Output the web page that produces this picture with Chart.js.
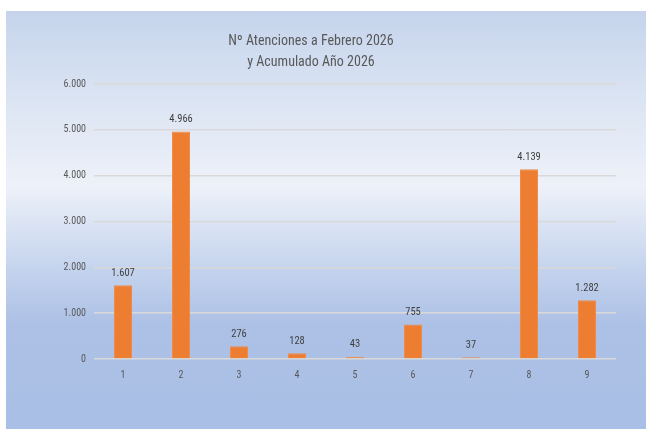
<!DOCTYPE html>
<html>
<head>
<meta charset="utf-8">
<script src="https://cdn.jsdelivr.net/npm/chart.js@4"></script>
<style>
  html, body { margin: 0; padding: 0; background: #fff; }
  #panel {
    position: absolute; left: 6px; top: 11px; width: 640px; height: 418px;
    background: linear-gradient(to bottom, #c5d4ec 0%, #dfe7f4 25%, #edf1f9 42%, #c4d3ed 62%, #adc1e6 75%, #aabfe5 100%);
  }
</style>
</head>
<body>
<div id="panel"><canvas id="barChart" width="640" height="418"></canvas></div>
<script>
  var categories = ["1", "2", "3", "4", "5", "6", "7", "8", "9"];
  var atenciones = [1607, 4966, 276, 128, 43, 755, 37, 4139, 1282];
  var titleLines = ["Nº Atenciones a Febrero 2026", "y Acumulado Año 2026"];
  var yMax = 6000;
  var yStep = 1000;

  var fontFamily = "'Liberation Sans Narrow', 'Roboto Condensed', Roboto, sans-serif";

  function fmt(v) {
    return v.toLocaleString("de-DE");
  }

  // labels above each bar
  var barLabels = {
    id: "barLabels",
    afterDatasetsDraw: function(chart) {
      var ctx = chart.ctx;
      var meta = chart.getDatasetMeta(0);
      ctx.save();
      ctx.fillStyle = "#404040";
      ctx.font = "10.5px " + fontFamily;
      ctx.textAlign = "center";
      ctx.textBaseline = "bottom";
      meta.data.forEach(function(bar, i) {
        ctx.fillText(fmt(atenciones[i]), bar.x, bar.y - 7);
      });
      ctx.restore();
    }
  };

  var ctx = document.getElementById("barChart").getContext("2d");
  new Chart(ctx, {
    type: "bar",
    data: {
      labels: categories,
      datasets: [{
        data: atenciones,
        backgroundColor: "#ed7d31",
        borderColor: "#f08a45",
        borderWidth: 1,
        barPercentage: 0.31,
        categoryPercentage: 1
      }]
    },
    options: {
      responsive: false,
      animation: false,
      layout: { padding: { left: 0, right: 30, top: 4, bottom: 46 } },
      plugins: {
        legend: { display: false },
        tooltip: { enabled: false },
        title: {
          display: true,
          text: titleLines,
          color: "#595959",
          font: { family: fontFamily, size: 14, weight: "normal", lineHeight: 1.5 },
          padding: { top: 16, bottom: 11 }
        }
      },
      scales: {
        x: {
          grid: { display: false, drawBorder: false },
          border: { display: false },
          ticks: { color: "#595959", font: { family: fontFamily, size: 10 }, padding: 2 }
        },
        y: {
          min: 0,
          max: yMax,
          afterFit: function(scale) { scale.width = 88; },
          grid: { color: "#d9d9d9", lineWidth: 1.5, drawTicks: false },
          border: { display: false },
          ticks: {
            stepSize: yStep,
            color: "#595959",
            font: { family: fontFamily, size: 10 },
            padding: 8,
            callback: function(v) { return fmt(v); }
          }
        }
      }
    },
    plugins: [barLabels]
  });
</script>
</body>
</html>
